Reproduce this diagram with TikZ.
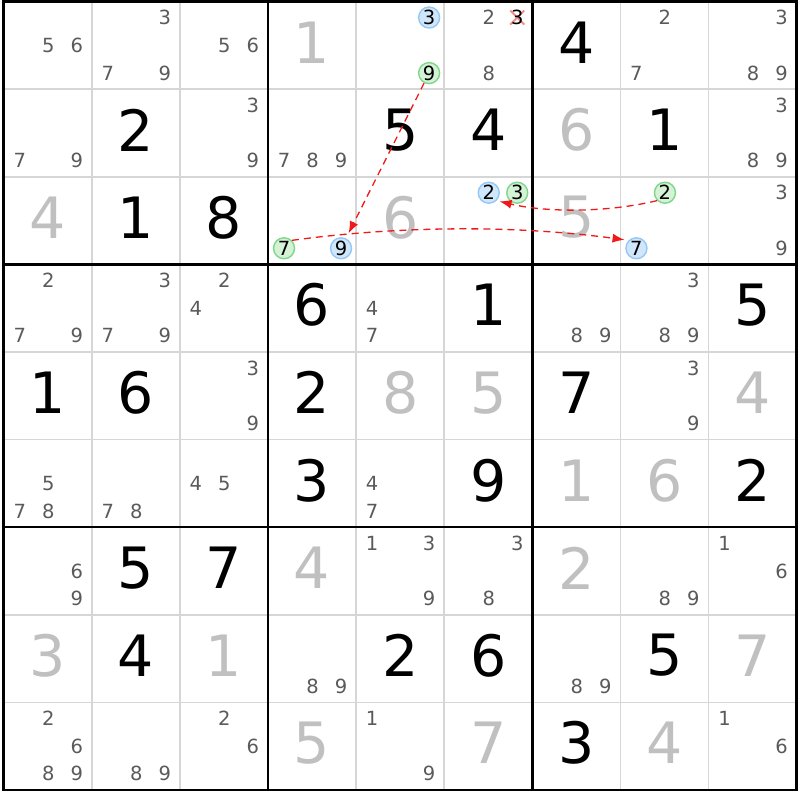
\documentclass[tikz,border=0pt]{standalone}
\usepackage{fontspec}
\setmainfont{DejaVu Sans}
\usetikzlibrary{arrows.meta}

\definecolor{candgray}{RGB}{90,90,90}
\definecolor{solvedgray}{RGB}{192,192,192}
\definecolor{gridgray}{RGB}{214,214,214}
\definecolor{linkred}{RGB}{240,24,24}
\definecolor{crossred}{RGB}{244,140,140}
\definecolor{onfill}{RGB}{208,230,250}
\definecolor{ondraw}{RGB}{150,200,245}
\definecolor{offfill}{RGB}{212,242,214}
\definecolor{offdraw}{RGB}{128,214,138}

\tikzset{
    declare function={
        candx(\cc,\dd)=\cc+0.182+0.3235*mod(\dd-1,3);
        candy(\rr,\dd)=\rr+0.183+0.317*int((\dd-1)/3);
    },
    bigdigit/.style={font=\fontsize{57}{57}\selectfont, inner sep=0pt},
    given/.style={bigdigit, text=black},
    solved/.style={bigdigit, text=solvedgray},
    cand/.style={font=\fontsize{19.5}{19.5}\selectfont, inner sep=0pt, text=candgray},
    oncand/.style={cand, text=black, circle, draw=ondraw, fill=onfill, line width=1.4pt, minimum size=21pt},
    offcand/.style={oncand, draw=offdraw, fill=offfill},
    link/.style={draw=linkred, line width=1.3pt, dash pattern=on 7pt off 5pt, -{Latex[length=12pt,width=9pt]}},
    thingrid/.style={draw=gridgray, line width=1.6pt},
    thickgrid/.style={draw=black, line width=2.6pt, line cap=rect}
}

\begin{document}
\begin{tikzpicture}[x=1pt, y=-1pt]
        \fill[white] (0,0) rectangle (800,800);
        \useasboundingbox (0,0) rectangle (800,800);

        \begin{scope}[shift={(3.7,1.5)}, x=88.1pt, y=-87.6pt]
        % Thin cell lines
        \foreach \i in {1,2,4,5,7,8}{
            \draw[thingrid] (\i,0) -- (\i,9);
            \draw[thingrid] (0,\i) -- (9,\i);
        }

        % Box lines and border
        \foreach \i in {3,6}{
            \draw[thickgrid] (\i,0) -- (\i,9);
            \draw[thickgrid] (0,\i) -- (9,\i);
        }
        \draw[thickgrid] (0,0) rectangle (9,9);

        % Given digits
        \foreach \row/\col/\dig in {0/6/4, 1/1/2, 1/4/5, 1/5/4, 1/7/1, 2/1/1, 2/2/8,
                3/3/6, 3/5/1, 3/8/5, 4/0/1, 4/1/6, 4/3/2, 4/6/7, 5/3/3, 5/5/9, 5/8/2,
                6/1/5, 6/2/7, 7/1/4, 7/4/2, 7/5/6, 7/7/5, 8/6/3}{
            \node[given] (g\row\col) at (\col+0.5,\row+0.466) {\dig};
        }

        % Solved digits
        \foreach \row/\col/\dig in {0/3/1, 1/6/6, 2/0/4, 2/4/6, 2/6/5, 4/4/8, 4/5/5, 4/8/4,
                5/6/1, 5/7/6, 6/3/4, 6/6/2, 7/0/3, 7/2/1, 7/8/7, 8/3/5, 8/5/7, 8/7/4}{
            \node[solved] (s\row\col) at (\col+0.5,\row+0.466) {\dig};
        }

        % Pencil marks
        \foreach \row/\col/\digs in {0/0/{5,6}, 0/1/{3,7,9}, 0/2/{5,6}, 0/5/{2,8}, 0/7/{2,7}, 0/8/{3,8,9},
                1/0/{7,9}, 1/2/{3,9}, 1/3/{7,8,9}, 1/8/{3,8,9}, 2/8/{3,9},
                3/0/{2,7,9}, 3/1/{3,7,9}, 3/2/{2,4}, 3/4/{4,7}, 3/6/{8,9}, 3/7/{3,8,9},
                4/2/{3,9}, 4/7/{3,9}, 5/0/{5,7,8}, 5/1/{7,8}, 5/2/{4,5}, 5/4/{4,7},
                6/0/{6,9}, 6/4/{1,3,9}, 6/5/{3,8}, 6/7/{8,9}, 6/8/{1,6},
                7/3/{8,9}, 7/6/{8,9},
                8/0/{2,6,8,9}, 8/1/{8,9}, 8/2/{2,6}, 8/4/{1,9}, 8/8/{1,6}}{
            \foreach \dig in \digs {
                \node[cand] (p\row\col\dig) at ({candx(\col,\dig)},{candy(\row,\dig)}) {\dig};
            }
        }

        % Chain candidates
        \node[oncand]  (on3)  at ({candx(4,3)},{candy(0,3)}) {3};
        \node[offcand] (off9) at ({candx(4,9)},{candy(0,9)}) {9};
        \node[offcand] (off7) at ({candx(3,7)},{candy(2,7)}) {7};
        \node[oncand]  (on9)  at ({candx(3,9)},{candy(2,9)}) {9};
        \node[oncand]  (on2)  at ({candx(5,2)},{candy(2,2)}) {2};
        \node[offcand] (off3) at ({candx(5,3)},{candy(2,3)}) {3};
        \node[offcand] (off2) at ({candx(7,2)},{candy(2,2)}) {2};
        \node[oncand]  (on7)  at ({candx(7,7)},{candy(2,7)}) {7};
        \coordinate (elim) at ({candx(5,3)},{candy(0,3)});
        \end{scope}

        % Eliminated candidate
        \draw[crossred, line width=2pt] ([shift={(-7,-7)}]elim) -- ([shift={(7,7)}]elim)
              ([shift={(-7,7)}]elim) -- ([shift={(7,-7)}]elim);
        \node[cand, text=black] (x3) at (elim) {3};

        % Links
        \draw[link, shorten >=5.5pt] (off9) -- (on9);
        \draw[link, shorten >=4pt] (off7.45) .. controls +(110,-15) and +(-110,-15) .. (on7.135);
        \draw[link, shorten >=3pt] (off2.225) .. controls +(-50,12) and +(50,12) .. (on2.-45);
\end{tikzpicture}
\end{document}
